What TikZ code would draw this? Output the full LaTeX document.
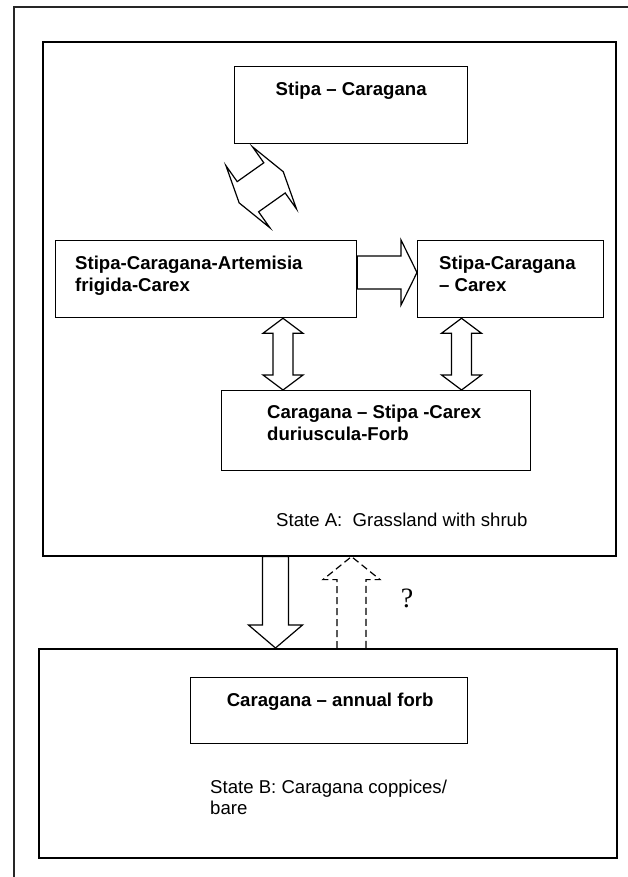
\documentclass[tikz,border=0pt]{standalone}
\usepackage{fontspec}
\setmainfont{Liberation Sans}
\newfontfamily\qfont{Liberation Serif}
\usetikzlibrary{calc}
\newcommand\vdbl[3]{%
  \draw[blk] let \p1=(#2), \p2=(#3) in
    (#1pt,\y1) -- ({#1pt+20pt},{\y1-15pt}) -- ({#1pt+10pt},{\y1-15pt})
    -- ({#1pt+10pt},{\y2+15pt}) -- ({#1pt+20pt},{\y2+15pt}) -- (#1pt,\y2)
    -- ({#1pt-20pt},{\y2+15pt}) -- ({#1pt-10pt},{\y2+15pt})
    -- ({#1pt-10pt},{\y1-15pt}) -- ({#1pt-20pt},{\y1-15pt}) -- cycle;}
\begin{document}
\begin{tikzpicture}[x=1pt,y=-1pt,
  frame/.style={draw=black!85,line width=1.6pt},
  box/.style={draw,line width=1.3pt,rectangle,inner sep=0pt,anchor=north west},
  bigbox/.style={box,line width=1.6pt},
  blk/.style={draw,line width=1.2pt,line join=miter,fill=white},
  dsh/.style={draw,line width=1.2pt,dash pattern=on 7pt off 4pt},
  bt/.style={font=\fontsize{18.6}{22}\selectfont\bfseries,inner sep=0pt,align=left},
  rt/.style={font=\fontsize{18.6}{21}\selectfont,inner sep=0pt,align=left}]
\useasboundingbox (0,0) rectangle (628,877);
% outer frame (only left and top edges visible)
\draw[frame] (628,7) -- (14,7) -- (14,877);
% state boxes
\node[bigbox,minimum width=573pt,minimum height=514pt] (A) at (42,41) {};
\node[bigbox,minimum width=578pt,minimum height=209pt] (B) at (38,648) {};
% community boxes
\node[box,minimum width=233pt,minimum height=77pt] (top) at (234,66) {};
\node[box,minimum width=301pt,minimum height=77pt] (art) at (55,240) {};
\node[box,minimum width=186pt,minimum height=77pt] (carex) at (417,240) {};
\node[box,minimum width=309pt,minimum height=80pt] (low) at (221,390) {};
\node[box,minimum width=277pt,minimum height=66pt] (annual) at (190,677) {};
% texts
\node[bt,anchor=north] (topT) at ($(top.north)+(0,15.5)$) {Stipa -- Caragana};
\node[bt,anchor=north west] (artT) at ($(art.north west)+(20,15.5)$) {Stipa-Caragana-Artemisia\\frigida-Carex};
\node[bt,anchor=north west] (carexT) at ($(carex.north west)+(22,15.5)$) {Stipa-Caragana\\-- Carex};
\node[bt,anchor=north west] (lowT) at ($(low.north west)+(46,14.5)$) {Caragana -- Stipa -Carex\\duriuscula-Forb};
\node[bt,anchor=north] (annualT) at ($(annual.north)+(1,15.5)$) {Caragana -- annual forb};
\node[rt,anchor=base west] (Alab) at (276,526) {State A:\ \ Grassland with shrub};
\node[rt,anchor=north west] (Blab) at (210,779.5) {State B: Caragana coppices/\\bare};
\node[inner sep=0pt,font=\qfont\fontsize{28}{30}\selectfont] (q) at (407,598) {?};
% diagonal double block arrow
\begin{scope}[shift={(261.2,187.3)},rotate=35.3]
\draw[blk] (27,0) -- (16.3,38) -- (16.3,18.5) -- (-16.3,18.5) -- (-16.3,38) -- (-27,0)
  -- (-16.3,-38) -- (-16.3,-18.5) -- (16.3,-18.5) -- (16.3,-38) -- cycle;
\end{scope}
% right block arrow
\draw[blk] let \p1=(art.north east), \p2=(carex.west) in
  (\x1,{\y1-16pt}) -- ({\x2-16pt},{\y1-16pt}) -- ({\x2-16pt},\y1) -- (\x2,{\y1-32.5pt})
  -- ({\x2-16pt},{\y1-65pt}) -- ({\x2-16pt},{\y1-49pt}) -- (\x1,{\y1-49pt}) -- cycle;
% vertical double block arrows
\vdbl{283}{art.south}{low.north}
\vdbl{461.5}{carex.south}{low.north}
% down arrow from A to B
\draw[blk] let \p1=(A.south), \p2=(B.north) in
  (262.5pt,\y1) -- (262.5pt,{\y2+23pt}) -- (248.5pt,{\y2+23pt}) -- (275.5pt,\y2)
  -- (302.5pt,{\y2+23pt}) -- (288.5pt,{\y2+23pt}) -- (288.5pt,\y1) -- cycle;
% dashed up arrow from B to A
\draw[dsh] let \p1=(A.south), \p2=(B.north) in
  (337pt,\y2) -- (337pt,{\y1-23pt}) -- (323pt,{\y1-23pt}) -- (351.5pt,\y1)
  -- (380pt,{\y1-23pt}) -- (366pt,{\y1-23pt}) -- (366pt,\y2);
\end{tikzpicture}
\end{document}
